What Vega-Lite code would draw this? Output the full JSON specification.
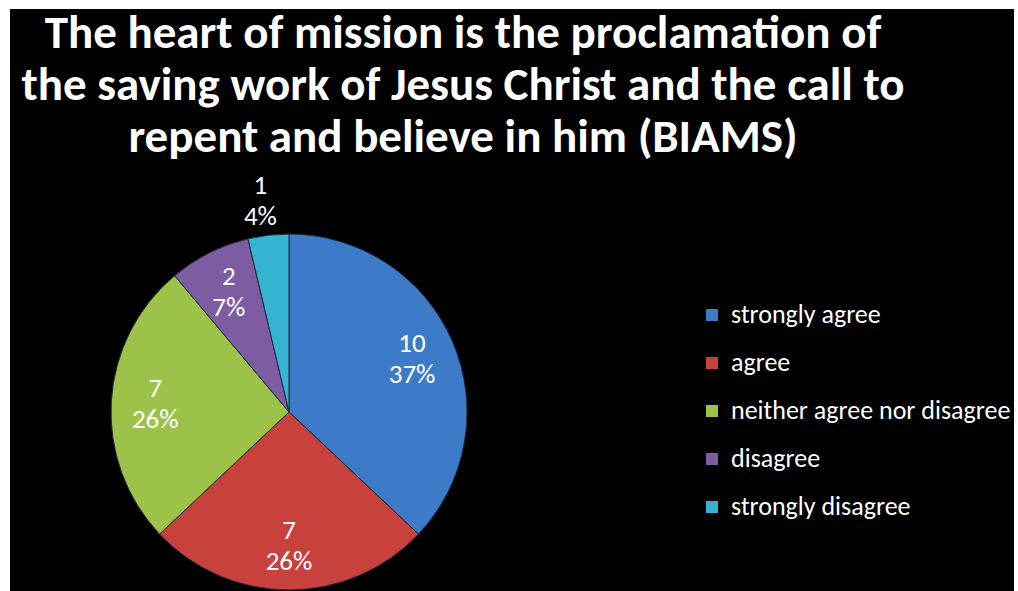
{
  "$schema": "https://vega.github.io/schema/vega-lite/v6.json",
  "background": "white",
  "padding": {"left": 10, "top": 9, "right": 4, "bottom": 0},
  "config": {"view": {"fill": "black", "stroke": null}, "concat": {"spacing": 0}},
  "bounds": "flush",
  "spacing": 0,
  "data": {"values": [
    {"response": "strongly agree", "count": 10, "rank": 1},
    {"response": "agree", "count": 7, "rank": 2},
    {"response": "neither agree  nor disagree", "count": 7, "rank": 3},
    {"response": "disagree", "count": 2, "rank": 4},
    {"response": "strongly disagree", "count": 1, "rank": 5}
  ]},
  "vconcat": [
    {
      "width": 1004,
      "height": 224,
      "view": {"fill": "black", "stroke": null},
      "data": {"values": [{"title": "The heart of mission is the proclamation of\nthe saving work of Jesus Christ and the call to\nrepent and believe in him (BIAMS)"}]},
      "mark": {"type": "text", "lineBreak": "\n", "font": "Carlito, Lato, sans-serif", "fontWeight": "bold", "fontSize": 47, "lineHeight": 52, "color": "white", "align": "center", "baseline": "middle", "dx": -49, "dy": -87},
      "encoding": {"text": {"field": "title", "type": "nominal"}}
    },
    {
      "spacing": 0,
      "bounds": "flush",
      "resolve": {"legend": {"color": "independent"}},
      "hconcat": [
        {
          "width": 558,
          "height": 358,
          "view": {"fill": "black", "stroke": null},
          "transform": [
            {"joinaggregate": [{"op": "sum", "field": "count", "as": "total"}]},
            {"calculate": "datum.count + '\\n' + format(datum.count / datum.total, '.0%')", "as": "label"}
          ],
          "encoding": {
            "theta": {"field": "count", "type": "quantitative", "stack": true},
            "order": {"field": "rank", "type": "quantitative"},
            "color": {
              "field": "response", "type": "nominal",
              "scale": {"domain": ["strongly agree", "agree", "neither agree  nor disagree", "disagree", "strongly disagree"], "range": ["#3D7BC9", "#C8413D", "#9CC24A", "#7D5CA3", "#35B3D0"]},
              "legend": null
            }
          },
          "layer": [
            {"mark": {"type": "arc", "outerRadius": 178, "stroke": "#1c2a3a", "strokeWidth": 1}},
            {
              "mark": {"type": "text", "radius": 134, "dy": -15, "lineBreak": "\n", "lineHeight": 31, "font": "Carlito, Lato, sans-serif", "fontSize": 27, "baseline": "middle", "align": "center"},
              "encoding": {
                "text": {"field": "label", "type": "nominal"},
                "detail": {"field": "response", "type": "nominal"},
                "color": {"value": "white"},
                "opacity": {"condition": {"test": "datum.count == 1", "value": 0}, "value": 1}
              }
            },
            {
              "mark": {"type": "text", "radius": 212, "dx": -4, "dy": -15, "lineBreak": "\n", "lineHeight": 31, "font": "Carlito, Lato, sans-serif", "fontSize": 27, "baseline": "middle", "align": "center"},
              "encoding": {
                "text": {"field": "label", "type": "nominal"},
                "detail": {"field": "response", "type": "nominal"},
                "color": {"value": "white"},
                "opacity": {"condition": {"test": "datum.count == 1", "value": 1}, "value": 0}
              }
            }
          ]
        },
        {
          "width": 446,
          "height": 358,
          "view": {"fill": "black", "stroke": null},
          "mark": {"type": "square", "opacity": 0},
          "encoding": {
            "color": {
              "field": "response", "type": "nominal",
              "scale": {"domain": ["strongly agree", "agree", "neither agree  nor disagree", "disagree", "strongly disagree"], "range": ["#3D7BC9", "#C8413D", "#9CC24A", "#7D5CA3", "#35B3D0"]},
              "legend": {
                "orient": "none", "legendX": 131, "legendY": 69, "title": null, "padding": 0,
                "symbolType": "square", "symbolSize": 144, "symbolStrokeWidth": 0,
                "labelColor": "white", "labelFont": "Carlito, Lato, sans-serif", "labelFontSize": 26,
                "labelOffset": 6, "labelLimit": 400, "rowPadding": 22,
                "encode": {"symbols": {"update": {"opacity": {"value": 1}, "fillOpacity": {"value": 1}}}}
              }
            }
          }
        }
      ]
    }
  ]
}
